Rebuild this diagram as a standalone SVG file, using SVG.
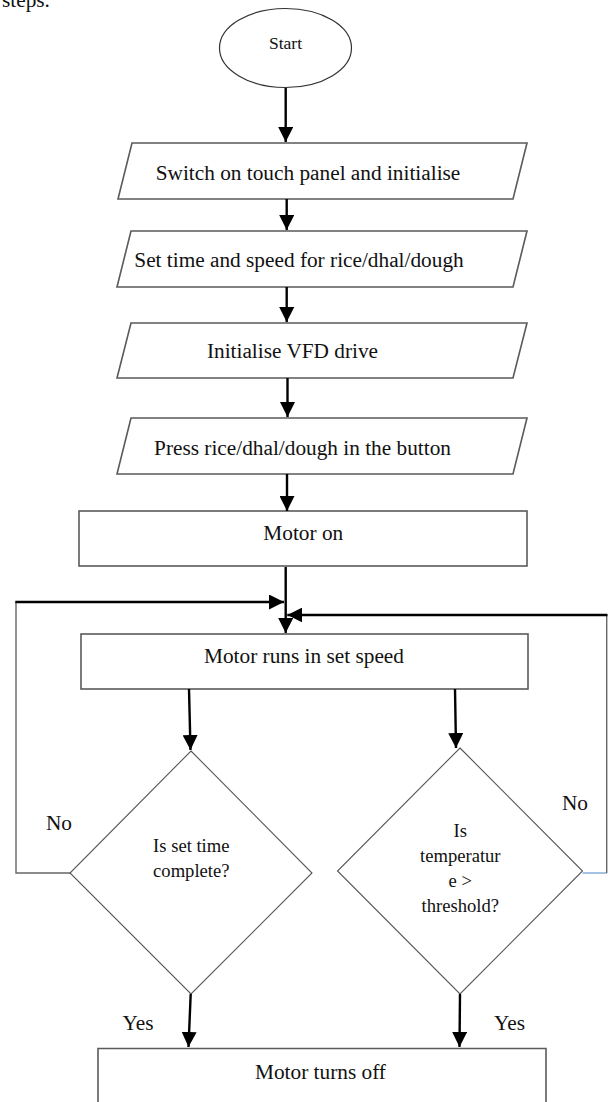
<svg xmlns="http://www.w3.org/2000/svg" width="608" height="1102" viewBox="0 0 608 1102">
<style>
text{font-family:"Liberation Serif","Times New Roman",serif;fill:#111;text-anchor:middle}
.t{font-size:21.3px}
.d{font-size:18.6px}
.box{fill:#fff;stroke:#5a5a5a;stroke-width:1.6}
.dia{fill:#fff;stroke:#555;stroke-width:1.1}
.arr{stroke:#000;stroke-width:2.4;fill:none}
.gray{stroke:#666;stroke-width:1.4;fill:none}
</style>
<defs>
<marker id="ah" viewBox="0 0 15 15" refX="15" refY="7.5" markerWidth="15" markerHeight="15" markerUnits="userSpaceOnUse" orient="auto">
<path d="M0,0 L15,7.5 L0,15 z" fill="#000"/>
</marker>
</defs>
<text x="2" y="7" class="t" style="text-anchor:start">steps.</text>
<g id="start">
<ellipse cx="285.5" cy="48" rx="66" ry="39.5" fill="#fff" stroke="#333" stroke-width="1.2"/>
<text x="285.5" y="49" style="font-size:17.5px">Start</text>
</g>
<g id="p1">
<polygon class="box" points="132,143 527,143 513,199 118,199"/>
<text x="308" y="180" class="t">Switch on touch panel and initialise</text>
</g>
<g id="p2">
<polygon class="box" points="131,231 527,231 513,287 117,287"/>
<text x="299" y="267" class="t">Set time and speed for rice/dhal/dough</text>
</g>
<g id="p3">
<polygon class="box" points="131,323 527,323 513,378 117,378"/>
<text x="292.5" y="358" class="t">Initialise VFD drive</text>
</g>
<g id="p4">
<polygon class="box" points="131,418 527,418 513,474 117,474"/>
<text x="302.5" y="455" class="t">Press rice/dhal/dough in the button</text>
</g>
<g id="motor-on">
<rect class="box" x="79" y="511" width="448" height="55"/>
<text x="303.3" y="540" class="t">Motor on</text>
</g>
<g id="motor-runs">
<rect class="box" x="81" y="634" width="447" height="55"/>
<text x="304" y="663" class="t">Motor runs in set speed</text>
</g>
<g id="d-time">
<polygon class="dia" points="191,751 312,873 191,994 70,873"/>
<text x="191.3" y="852" class="d">Is set time</text>
<text x="191.3" y="877" class="d">complete?</text>
</g>
<g id="d-temp">
<polygon class="dia" points="460,748 582.5,871 460,994 337.5,871"/>
<text x="460.3" y="837" class="d">Is</text>
<text x="460.3" y="862" class="d">temperatur</text>
<text x="460.3" y="886.5" class="d">e &gt;</text>
<text x="460.3" y="911.5" class="d">threshold?</text>
</g>
<g id="motor-off">
<path class="box" d="M98,1104 V1048.5 H546 V1104"/>
<text x="320.5" y="1078.5" class="t">Motor turns off</text>
</g>
<g id="connectors">
<line class="arr" x1="285.7" y1="88" x2="285.7" y2="142" marker-end="url(#ah)"/>
<line class="arr" x1="286.7" y1="199" x2="286.7" y2="230" marker-end="url(#ah)"/>
<line class="arr" x1="286.7" y1="287" x2="286.7" y2="322" marker-end="url(#ah)"/>
<line class="arr" x1="287.5" y1="378" x2="287.5" y2="417" marker-end="url(#ah)"/>
<line class="arr" x1="287" y1="474" x2="287" y2="511" marker-end="url(#ah)"/>
<line class="arr" x1="285.7" y1="567" x2="285.7" y2="633" marker-end="url(#ah)"/>
<path class="gray" d="M70,873 H16 V602"/>
<line class="arr" x1="15.3" y1="602" x2="284" y2="602" marker-end="url(#ah)"/>
<line x1="582.5" y1="873" x2="607" y2="873" stroke="#8fb3dc" stroke-width="1.6"/>
<line class="gray" x1="606.7" y1="873" x2="606.7" y2="615"/>
<line class="arr" x1="607.5" y1="615" x2="287.3" y2="615" marker-end="url(#ah)"/>
<line class="arr" x1="189" y1="689" x2="190.5" y2="750" marker-end="url(#ah)"/>
<line class="arr" x1="455" y1="689" x2="456" y2="748" marker-end="url(#ah)"/>
<text x="59" y="830" class="t">No</text>
<text x="575" y="810" class="t">No</text>
<line class="arr" x1="190.7" y1="994" x2="188.5" y2="1047" marker-end="url(#ah)"/>
<line class="arr" x1="460" y1="994" x2="459.5" y2="1047" marker-end="url(#ah)"/>
<text x="138" y="1029.5" class="t">Yes</text>
<text x="509.5" y="1030" class="t">Yes</text>
</g>
</svg>
